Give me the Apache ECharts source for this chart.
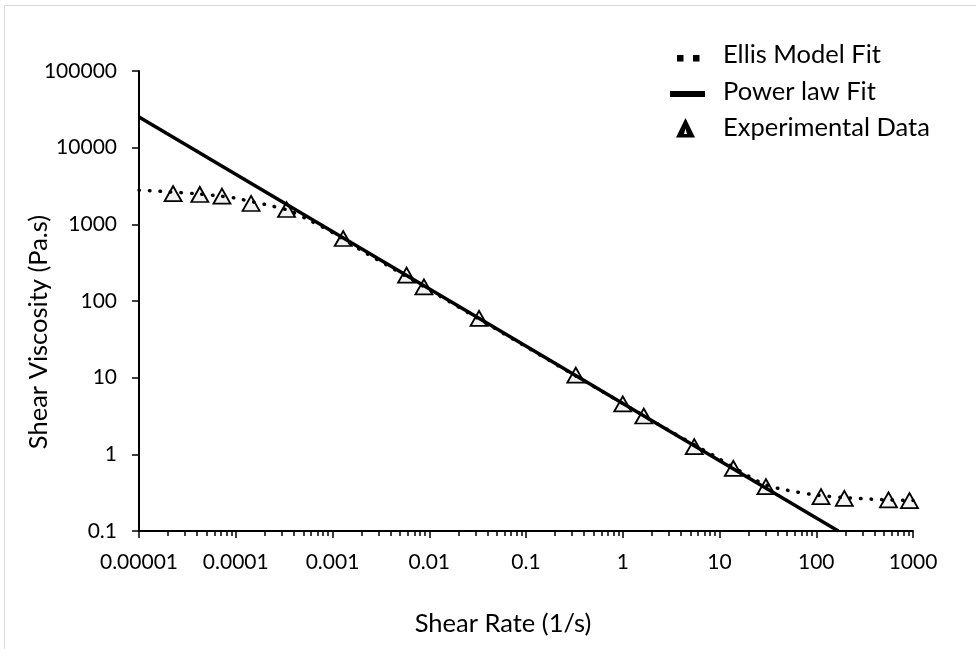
<!DOCTYPE html>
<html>
<head>
<meta charset="utf-8">
<script src="https://cdn.jsdelivr.net/npm/echarts@6/dist/echarts.min.js"></script>
<style>
  html, body { margin: 0; padding: 0; background: #fff; }
  #chart { width: 976px; height: 649px; }
</style>
</head>
<body>
<div id="chart"></div>
<script>
// tick labels
const xTickLabels = ['0.00001', '0.0001', '0.001', '0.01', '0.1', '1', '10', '100', '1000']
const yTickLabels = ['0.1', '1', '10', '100', '1000', '10000', '100000']
const minorSteps = [2, 3, 4, 5, 6, 7, 8, 9]

const expRate = [2.25e-5, 4.25e-5, 7.2e-5, 1.44e-4, 3.35e-4, 1.29e-3, 5.83e-3, 8.81e-3, 0.0327, 0.327,
  1.0, 1.65, 5.48, 13.9, 30.2, 112, 195, 558, 920]
const expVisc = [2520, 2450, 2330, 1870, 1560, 653, 217, 153, 59.4, 10.8,
  4.54, 3.16, 1.26, 0.656, 0.379, 0.281, 0.267, 0.254, 0.249]

// Ellis model fit curve
const ellisRate = [1e-5, 2e-5, 4e-5, 7e-5, 1e-4, 1.5e-4, 2e-4, 3.5e-4, 6e-4, 1e-3, 2e-3, 4e-3, 0.01,
  0.03, 0.1, 0.3, 1, 3, 10, 20, 30, 50, 100, 200, 500, 1000]
const ellisVisc = [2790, 2660, 2500, 2330, 2200, 1960, 1820, 1520, 1100, 780, 455, 275, 140,
  62, 25.3, 11.2, 4.6, 2.05, 0.87, 0.52, 0.40, 0.34, 0.295, 0.272, 0.256, 0.249]

// power law fit (straight line on log-log)
const powerRate = [1e-5, 169]
const powerVisc = [25100, 0.1]

const font = 'Lato'
const pairs = (xs, ys) => xs.map((x, i) => [x, ys[i]])
const expOf = v => Math.round(Math.log10(v))

const minorTicks = []
for (let e = -5; e < 3; e++) minorSteps.forEach(k => minorTicks.push(e + Math.log10(k)))

const chart = echarts.init(document.getElementById('chart'))

chart.setOption({
  animation: false,
  backgroundColor: '#fff',
  grid: { left: 139, right: 63, top: 71, bottom: 118 },
  xAxis: [
    {
      type: 'log',
      logBase: 10,
      min: 1e-5,
      max: 1000,
      interval: 1,
      position: 'bottom',
      axisLine: { show: true, onZero: false, lineStyle: { color: '#000', width: 2 } },
      axisTick: { show: true, length: 7, lineStyle: { color: '#000', width: 1.5 } },
      axisLabel: {
        interval: 0,
        margin: 21,
        color: '#000',
        fontFamily: font,
        fontSize: 21,
        formatter: v => xTickLabels[expOf(v) + 5]
      },
      splitLine: { show: false }
    },
    {
      // minor ticks, placed in log10 space
      type: 'value',
      min: -5,
      max: 3,
      position: 'bottom',
      axisLine: { show: false, onZero: false },
      axisLabel: { show: false },
      splitLine: { show: false },
      axisTick: { show: true, length: 5, customValues: minorTicks, lineStyle: { color: '#000', width: 1.5 } }
    }
  ],
  yAxis: {
    type: 'log',
    logBase: 10,
    min: 0.1,
    max: 100000,
    interval: 1,
    position: 'left',
    axisLine: { show: true, onZero: false, lineStyle: { color: '#000', width: 2 } },
    axisTick: { show: true, length: 7, lineStyle: { color: '#000', width: 1.5 } },
    axisLabel: {
      margin: 22,
      color: '#000',
      fontFamily: font,
      fontSize: 21,
      formatter: v => yTickLabels[expOf(v) + 1]
    },
    splitLine: { show: false }
  },
  legend: {
    orient: 'vertical',
    left: 670,
    top: 42,
    padding: 0,
    itemWidth: 48,
    itemHeight: 20,
    itemGap: 10.5,
    selectedMode: false,
    textStyle: { fontFamily: font, fontSize: 25.5, color: '#000', lineHeight: 26 },
    data: [
      {
        name: 'Ellis Model Fit',
        icon: 'path://M0,0M48,20M7,10h6.5v6.5h-6.5zM23,10h6.5v6.5h-6.5z',
        itemStyle: { color: '#000', borderWidth: 0 }
      },
      {
        name: 'Power law Fit',
        icon: 'path://M0,0M48,20M0,9.5h35v6h-35z',
        itemStyle: { color: '#000', borderWidth: 0 }
      },
      {
        name: 'Experimental Data',
        icon: 'path://M0,0M48,20M15.5,0L25,19.5L6,19.5ZM15.5,10.5L14,16L17,16Z',
        itemStyle: { color: '#000', borderWidth: 0 }
      }
    ]
  },
  graphic: [
    {
      type: 'rect',
      z: -1,
      shape: { x: 4.5, y: 5.5, width: 1200, height: 900 },
      style: { fill: null, stroke: '#d9d9d9', lineWidth: 1 }
    },
    {
      type: 'text',
      x: 39,
      y: 332,
      rotation: Math.PI / 2,
      style: {
        text: 'Shear Viscosity (Pa.s)',
        fontFamily: font,
        fontSize: 25.5,
        fill: '#000',
        align: 'center',
        verticalAlign: 'middle'
      }
    },
    {
      type: 'text',
      x: 503,
      y: 624,
      style: {
        text: 'Shear Rate (1/s)',
        fontFamily: font,
        fontSize: 25.5,
        fill: '#000',
        align: 'center',
        verticalAlign: 'middle'
      }
    }
  ],
  series: [
    {
      name: 'Ellis Model Fit',
      type: 'line',
      xAxisIndex: 0,
      smooth: 0.3,
      showSymbol: false,
      symbol: 'none',
      lineStyle: { color: '#000', width: 3.5, type: [0.5, 10], cap: 'round' },
      itemStyle: { color: '#000' },
      data: pairs(ellisRate, ellisVisc)
    },
    {
      name: 'Power law Fit',
      type: 'line',
      xAxisIndex: 0,
      showSymbol: false,
      symbol: 'none',
      lineStyle: { color: '#000', width: 3.5 },
      itemStyle: { color: '#000' },
      data: pairs(powerRate, powerVisc)
    },
    {
      name: 'Experimental Data',
      type: 'scatter',
      xAxisIndex: 0,
      symbol: 'triangle',
      symbolSize: [17, 15],
      itemStyle: { color: '#f2f2f2', borderColor: '#000', borderWidth: 1.8, opacity: 1 },
      data: pairs(expRate, expVisc)
    }
  ]
})
</script>
</body>
</html>
